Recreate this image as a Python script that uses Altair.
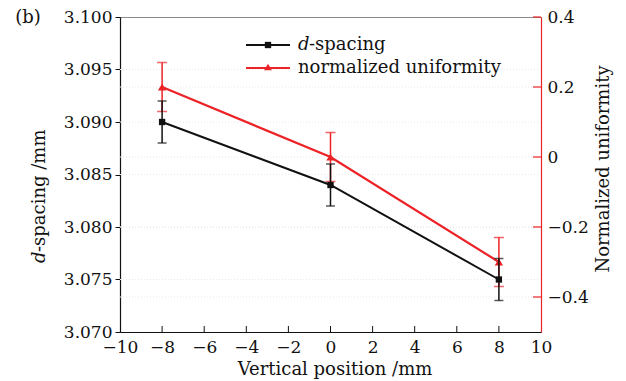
import altair as alt
import pandas as pd

# ---- data ----
x_pos = [-8, 0, 8]
d_spacing = [3.090, 3.084, 3.075]
d_err = [0.002, 0.002, 0.002]
uniformity = [0.20, 0.00, -0.30]
u_err = [0.07, 0.07, 0.07]

x_ticks = [-10, -8, -6, -4, -2, 0, 2, 4, 6, 8, 10]
x_inner_ticks = [-8, -6, -4, -2, 0, 2, 4, 6, 8]
left_ticks = [3.070, 3.075, 3.080, 3.085, 3.090, 3.095, 3.100]
right_ticks = [-0.4, -0.2, 0.0, 0.2, 0.4]

FONT = "DejaVu Serif"
RED = "#ec2227"
BLACK = "#111111"
GRID = "#e8e8e8"
W, H = 421, 315

df = pd.DataFrame({"x": x_pos, "d": d_spacing, "de": d_err, "u": uniformity, "ue": u_err})
df["d_lo"] = df["d"] - df["de"]
df["d_hi"] = df["d"] + df["de"]
df["u_lo"] = df["u"] - df["ue"]
df["u_hi"] = df["u"] + df["ue"]

xt_df = pd.DataFrame({"x": x_inner_ticks})
rt_df = pd.DataFrame({"v": right_ticks})
lg_df = pd.DataFrame({"v": left_ticks[1:-1]})
rg_df = pd.DataFrame({"v": right_ticks[:-1]})

x_axis = alt.Axis(values=x_ticks, format="d", tickSize=0, labelPadding=7, title=None,
                  domainColor=BLACK, domainWidth=1.2, grid=False, labelOverlap=False,
                  labelFlush=False)
X = lambda f="x": alt.X(f"{f}:Q", scale=alt.Scale(domain=[-10, 10], nice=False), axis=x_axis)

left_axis = alt.Axis(orient="left", values=left_ticks, format=".3f", tickSize=5, tickColor=BLACK,
                     labelPadding=3, title=None, domainColor=BLACK, domainWidth=1.2,
                     labelOverlap=False, labelFlush=False, grid=False)
left_scale = alt.Scale(domain=[3.070, 3.100], nice=False, zero=False)
YL = lambda f: alt.Y(f"{f}:Q", scale=left_scale, axis=left_axis)

right_axis = alt.Axis(orient="right", values=right_ticks, format=".1~f", tickSize=0,
                      labelPadding=6, title=None, domainColor=RED, domainWidth=1.2,
                      labelOverlap=False, labelFlush=False, grid=False)
right_scale = alt.Scale(domain=[-0.5, 0.4], nice=False, zero=False)
YR = lambda f: alt.Y(f"{f}:Q", scale=right_scale, axis=right_axis)

base = alt.Chart(df)

# ---- faint dotted grid (drawn first) ----
left_grid = alt.Chart(lg_df).mark_rule(color=GRID, strokeWidth=1, strokeDash=[1, 2]).encode(
    y=alt.Y("v:Q", scale=left_scale, axis=None), x=alt.value(0), x2=alt.value(W))

# ---- right (normalized uniformity) ----
r_grid = alt.Chart(rg_df).mark_rule(color=GRID, strokeWidth=1, strokeDash=[1, 2]).encode(
    y=YR("v"), x=alt.value(0), x2=alt.value(W))
r_line = base.mark_line(color=RED, strokeWidth=2.2).encode(x=X(), y=YR("u"))
r_err = base.mark_rule(color=RED, strokeWidth=1.5).encode(x=X(), y=YR("u_lo"), y2="u_hi:Q")
r_cap1 = base.mark_tick(color=RED, orient="horizontal", size=10, thickness=1.5).encode(x=X(), y=YR("u_lo"))
r_cap2 = base.mark_tick(color=RED, orient="horizontal", size=10, thickness=1.5).encode(x=X(), y=YR("u_hi"))
r_pts = base.mark_point(shape="triangle-up", filled=True, size=70, color=RED, opacity=1).encode(x=X(), y=YR("u"))
r_inner = alt.Chart(rt_df).mark_rule(color=RED, strokeWidth=1.2).encode(
    y=YR("v"), x=alt.value(W - 8), x2=alt.value(W))
right = alt.layer(r_grid, r_line, r_err, r_cap1, r_cap2, r_pts, r_inner)

# ---- left (d-spacing) ----
l_line = base.mark_line(color=BLACK, strokeWidth=2).encode(x=X(), y=YL("d"))
l_err = base.mark_rule(color=BLACK, strokeWidth=1.5).encode(x=X(), y=YL("d_lo"), y2="d_hi:Q")
l_cap1 = base.mark_tick(color=BLACK, orient="horizontal", size=9, thickness=1.5).encode(x=X(), y=YL("d_lo"))
l_cap2 = base.mark_tick(color=BLACK, orient="horizontal", size=9, thickness=1.5).encode(x=X(), y=YL("d_hi"))
l_pts = base.mark_point(shape="square", filled=True, size=40, color=BLACK, opacity=1).encode(x=X(), y=YL("d"))
x_inner = alt.Chart(xt_df).mark_rule(color=BLACK, strokeWidth=1).encode(
    x=X(), y=alt.value(H - 6), y2=alt.value(H))
left = alt.layer(l_line, l_err, l_cap1, l_cap2, l_pts, x_inner)

# ---- annotations: titles, panel label, legend ----
one = pd.DataFrame({"a": [0]})
ann = alt.Chart(one)

def txt(s, x, y, size=17, angle=0, align="center", style="normal", color=BLACK):
    return ann.mark_text(text=s, font=FONT, fontSize=size, angle=angle, align=align,
                         baseline="middle", fontStyle=style, color=color).encode(
        x=alt.value(x), y=alt.value(y))

panel = txt("(b)", -92, 1, size=18)
xtitle = txt("Vertical position /mm", 215, 353, size=18)
yl_d = txt("d", -80, 246, size=18, angle=270, align="left", style="italic")
yl_rest = txt("-spacing /mm", -80, 235, size=18, angle=270, align="left")
yr_title = txt("Normalized uniformity", 484, 152, size=18, angle=270)

leg1_line = ann.mark_rule(color=BLACK, strokeWidth=2).encode(x=alt.value(126), x2=alt.value(170), y=alt.value(28))
leg1_pt = ann.mark_point(shape="square", filled=True, size=40, color=BLACK, opacity=1).encode(x=alt.value(148), y=alt.value(28))
leg1_d = txt("d", 178, 28, size=18, align="left", style="italic")
leg1_rest = txt("-spacing", 189, 28, size=18, align="left")
leg2_line = ann.mark_rule(color=RED, strokeWidth=2).encode(x=alt.value(126), x2=alt.value(170), y=alt.value(51))
leg2_pt = ann.mark_point(shape="triangle-up", filled=True, size=60, color=RED, opacity=1).encode(x=alt.value(148), y=alt.value(50))
leg2_txt = txt("normalized uniformity", 178, 51, size=18, align="left")

annotations = alt.layer(panel, xtitle, yl_d, yl_rest, yr_title,
                        leg1_line, leg1_pt, leg1_d, leg1_rest, leg2_line, leg2_pt, leg2_txt)

chart = alt.layer(left_grid, right, left, annotations).resolve_scale(y="independent").properties(
    width=W, height=H,
    autosize=alt.AutoSizeParams(type="none"),
    padding={"left": 120, "top": 17, "right": 85, "bottom": 49},
).configure_axis(
    labelFont=FONT, labelFontSize=17, labelColor=BLACK,
).configure_view(
    stroke="#8a8a8a", strokeWidth=1,
)

chart.save("out.html", embed_options={"renderer": "svg", "actions": False})
